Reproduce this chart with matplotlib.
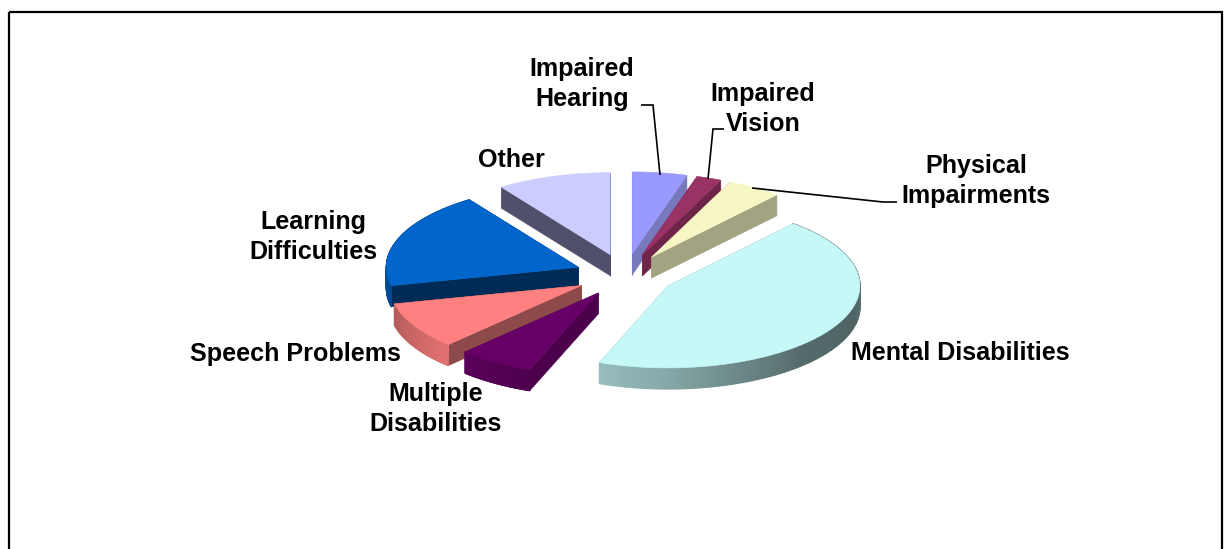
import numpy as np
import matplotlib
matplotlib.use("Agg")
import matplotlib.pyplot as plt
from matplotlib.patches import Polygon, Rectangle
from matplotlib.collections import PolyCollection

# Clockwise from 12 o'clock
categories = ["Impaired\nHearing", "Impaired\nVision", "Physical\nImpairments",
              "Mental Disabilities", "Multiple\nDisabilities", "Speech Problems",
              "Learning\nDifficulties", "Other"]
values = [4.6, 2.1, 4.6, 44.5, 6.4, 9.2, 19.0, 9.6]

top_colors = ["#9999FF", "#993366", "#F7F7C6", "#C6F8F8", "#660066", "#FF8080", "#0066CC", "#CCCCFF"]
wall_colors = ["#7878BC", "#6E2549", "#A3A384", "#8AB0B0", "#4C004C", "#8C4A4A", "#002B57", "#50506C"]
label_pos = [(582, 84), (763, 109), (976, 181), (960, 353), (436, 409), (295, 354), (313, 237), (511, 160)]

CX, CY = 625, 275
RX, RY = 192, 82
EXPLODE = 0.26
DEPTH = 21

fig = plt.figure(figsize=(12.31, 5.49), dpi=100)
ax = fig.add_axes([0, 0, 1, 1])
ax.set_xlim(0, 1231)
ax.set_ylim(549, 0)
ax.axis("off")

ax.add_patch(Rectangle((8.5, 11.5), 1213, 560, fill=False, ec="black", lw=1.6, zorder=1))

def pt(t, ox, oy):
    return ox + RX * np.sin(t), oy - RY * np.cos(t)

def hexrgb(c):
    return np.array(matplotlib.colors.to_rgb(c))

# brightness of the outer rim as it turns round the front of the pie
shade_deg = [90, 105, 135, 160, 180, 200, 225, 255, 270]
shade_val = [0.46, 0.40, 0.43, 0.56, 0.68, 0.76, 0.88, 0.72, 0.70]

fracs = np.array(values) / np.sum(values) * 2 * np.pi
starts = np.concatenate([[0], np.cumsum(fracs)[:-1]])
mids = starts + fracs / 2
order = list(np.argsort(-np.cos(mids)))

for i in order:
    z = 2 + order.index(i)
    t0, t1, m = starts[i], starts[i] + fracs[i], mids[i]
    ox = CX + EXPLODE * RX * np.sin(m)
    oy = CY - EXPLODE * RY * np.cos(m)
    ts = np.linspace(t0, t1, 100)
    xs, ys = pt(ts, ox, oy)

    # cut faces
    for t in (t0, t1):
        x, y = pt(t, ox, oy)
        ax.add_patch(Polygon([(ox, oy), (x, y), (x, y + DEPTH), (ox, oy + DEPTH)],
                             fc=wall_colors[i], ec=wall_colors[i], lw=0.4, zorder=z))
    # rim
    quads, cols = [], []
    for k in range(len(ts) - 1):
        quads.append([(xs[k], ys[k]), (xs[k + 1], ys[k + 1]),
                      (xs[k + 1], ys[k + 1] + DEPTH), (xs[k], ys[k] + DEPTH)])
        f = np.interp(np.degrees(ts[k]) % 360, shade_deg, shade_val)
        cols.append(np.clip(hexrgb(top_colors[i]) * f, 0, 1))
    if np.cos(m) < 0.6:
        ax.add_collection(PolyCollection(quads, facecolors=cols, edgecolors=cols, linewidths=1.0,
                                         zorder=z))
    # top
    ax.add_patch(Polygon(np.column_stack([np.r_[ox, xs], np.r_[oy, ys]]),
                         fc=top_colors[i], ec=top_colors[i], lw=0.4, zorder=z + 0.5))

leaders = [([641, 653, 660], [105, 105, 175]),
           ([724, 713, 708], [129, 129, 179]),
           ([752, 883, 897], [188, 202, 202])]
for lx, ly in leaders:
    ax.plot(lx, ly, color="black", lw=1.2, zorder=20, solid_capstyle="butt", solid_joinstyle="miter")

for name, (x, y) in zip(categories, label_pos):
    ax.text(x, y, name, ha="center", va="center", family="Liberation Sans", weight="bold",
            fontsize=18.1, color="black", linespacing=1.32, zorder=21)

fig.savefig("out.png", dpi=100)
